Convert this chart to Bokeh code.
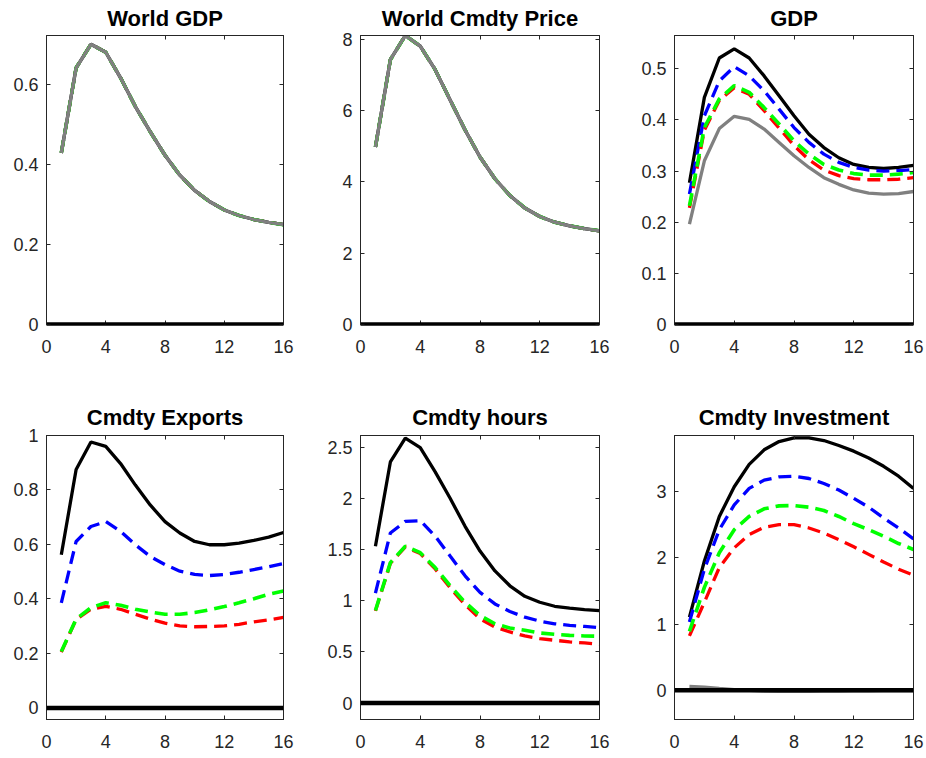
from bokeh.plotting import figure
from bokeh.models import Range1d, LinearAxis, FixedTicker, Span, CustomLabelingPolicy
from bokeh.layouts import column, row
from bokeh.embed import file_html
from bokeh.resources import INLINE

# ---------------- data ----------------
horizon = list(range(1, 17))
x_ticks = [0, 4, 8, 12, 16]

titles = ["World GDP", "World Cmdty Price", "GDP",
          "Cmdty Exports", "Cmdty hours", "Cmdty Investment"]

# World GDP (all scenarios coincide)
world_gdp = [0.430, 0.643, 0.702, 0.682, 0.618, 0.546, 0.483, 0.424,
             0.374, 0.336, 0.308, 0.287, 0.273, 0.263, 0.256, 0.250]
# World commodity price (all scenarios coincide)
world_price = [4.98, 7.43, 8.11, 7.81, 7.15, 6.30, 5.46, 4.70,
               4.09, 3.62, 3.27, 3.03, 2.87, 2.77, 2.69, 2.63]

# GDP
gdp_black = [0.277, 0.444, 0.521, 0.539, 0.521, 0.486, 0.447, 0.408,
             0.372, 0.346, 0.326, 0.313, 0.307, 0.305, 0.307, 0.311]
gdp_blue = [0.255, 0.408, 0.476, 0.504, 0.486, 0.457, 0.421, 0.385,
            0.356, 0.333, 0.317, 0.307, 0.302, 0.300, 0.301, 0.303]
gdp_green = [0.232, 0.385, 0.441, 0.467, 0.454, 0.424, 0.392, 0.359,
             0.333, 0.313, 0.302, 0.295, 0.292, 0.292, 0.294, 0.297]
gdp_red = [0.228, 0.380, 0.438, 0.463, 0.450, 0.418, 0.384, 0.350,
           0.322, 0.302, 0.291, 0.285, 0.283, 0.283, 0.284, 0.287]
gdp_gray = [0.196, 0.320, 0.383, 0.407, 0.401, 0.382, 0.356, 0.330,
            0.307, 0.287, 0.274, 0.263, 0.257, 0.255, 0.256, 0.260]

# Commodity exports
exp_black = [0.562, 0.875, 0.976, 0.960, 0.897, 0.818, 0.745, 0.684,
             0.642, 0.611, 0.599, 0.599, 0.605, 0.615, 0.627, 0.644]
exp_blue = [0.386, 0.611, 0.666, 0.684, 0.648, 0.599, 0.556, 0.526,
            0.502, 0.490, 0.486, 0.490, 0.498, 0.508, 0.518, 0.530]
exp_green = [0.207, 0.326, 0.368, 0.386, 0.377, 0.362, 0.352, 0.344,
             0.344, 0.350, 0.360, 0.372, 0.386, 0.401, 0.417, 0.429]
exp_red = [0.205, 0.325, 0.362, 0.373, 0.362, 0.344, 0.326, 0.311,
           0.301, 0.298, 0.299, 0.301, 0.307, 0.316, 0.323, 0.332]
exp_gray = [0.0, 0.0, 0.0, 0.0, 0.0, 0.0, 0.0, 0.0,
            0.0, 0.0, 0.0, 0.0, 0.0, 0.0, 0.0, 0.0]

# Commodity hours
hrs_black = [1.532, 2.355, 2.587, 2.494, 2.258, 2.000, 1.726, 1.484,
             1.290, 1.145, 1.042, 0.984, 0.945, 0.926, 0.913, 0.903]
hrs_blue = [1.074, 1.661, 1.774, 1.781, 1.629, 1.435, 1.242, 1.081,
            0.968, 0.894, 0.839, 0.800, 0.774, 0.758, 0.748, 0.735]
hrs_green = [0.903, 1.371, 1.532, 1.468, 1.323, 1.145, 0.984, 0.855,
             0.774, 0.732, 0.710, 0.684, 0.671, 0.661, 0.655, 0.652]
hrs_red = [0.900, 1.365, 1.525, 1.460, 1.310, 1.125, 0.960, 0.823,
           0.742, 0.694, 0.655, 0.629, 0.613, 0.597, 0.587, 0.574]
hrs_gray = [0.0, 0.0, 0.0, 0.0, 0.0, 0.0, 0.0, 0.0,
            0.0, 0.0, 0.0, 0.0, 0.0, 0.0, 0.0, 0.0]

# Commodity investment
inv_black = [1.106, 1.952, 2.624, 3.073, 3.411, 3.630, 3.755, 3.810,
             3.810, 3.770, 3.695, 3.610, 3.506, 3.381, 3.232, 3.048]
inv_blue = [1.031, 1.828, 2.425, 2.799, 3.048, 3.172, 3.222, 3.232,
            3.197, 3.122, 3.023, 2.898, 2.764, 2.600, 2.450, 2.286]
inv_green = [0.891, 1.554, 2.077, 2.425, 2.624, 2.739, 2.784, 2.789,
             2.764, 2.714, 2.624, 2.515, 2.425, 2.326, 2.216, 2.126]
inv_red = [0.822, 1.330, 1.853, 2.151, 2.351, 2.460, 2.500, 2.500,
           2.450, 2.375, 2.276, 2.166, 2.052, 1.937, 1.828, 1.738]
inv_gray = [0.060, 0.050, 0.030, 0.012, 0.000, -0.010, -0.015, -0.015,
            -0.015, -0.012, -0.010, -0.008, -0.006, -0.004, -0.003, -0.002]

y_limits = [(0, 0.724), (0, 8.11), (0, 0.565),
            (-0.0425, 1.0), (-0.161, 2.613), (-0.44, 3.846)]
y_ticks = [[0, 0.2, 0.4, 0.6], [0, 2, 4, 6, 8], [0, 0.1, 0.2, 0.3, 0.4, 0.5],
           [0, 0.2, 0.4, 0.6, 0.8, 1], [0, 0.5, 1, 1.5, 2, 2.5], [0, 1, 2, 3]]

series = [
    (world_gdp, world_gdp, world_gdp, world_gdp, world_gdp),
    (world_price, world_price, world_price, world_price, world_price),
    (gdp_black, gdp_blue, gdp_red, gdp_green, gdp_gray),
    (exp_black, exp_blue, exp_red, exp_green, exp_gray),
    (hrs_black, hrs_blue, hrs_red, hrs_green, hrs_gray),
    (inv_black, inv_blue, inv_red, inv_green, inv_gray),
]

# ---------------- layout / style ----------------
AX = "#262626"
FONT = "Liberation Sans"
TICK_FS = "18px"
DASH = "13 7"

# (width, height, left, right, top, bottom, title standoff)
geom = [
    (321, 392, 46, 38, 35, 68, 1),
    (315, 392, 39, 37, 35, 68, 1),
    (288, 392, 38, 11, 35, 68, 1),
    (321, 358, 46, 38, 43, 28, 3),
    (315, 358, 39, 37, 43, 28, 3),
    (288, 358, 38, 11, 43, 28, 3),
]

no_labels = CustomLabelingPolicy(code="""
    for (const i of indices)
        indices.unset(i)
    return indices
""")


def style_axis(ax, ticks, show_labels, standoff):
    ax.ticker = FixedTicker(ticks=ticks)
    ax.axis_line_color = AX
    ax.axis_line_width = 1
    ax.major_tick_line_color = AX
    ax.major_tick_in = 4
    ax.major_tick_out = 0
    ax.minor_tick_line_color = None
    ax.major_label_text_font = FONT
    ax.major_label_text_color = AX
    if show_labels:
        ax.major_label_text_font_size = TICK_FS
        ax.major_label_standoff = standoff
    else:
        ax.major_label_text_font_size = "1px"
        ax.major_label_policy = no_labels
        ax.major_label_standoff = 0


figs = []
for i in range(6):
    w, h, bl, br, bt, bb, ts = geom[i]
    p = figure(width=w, height=h, output_backend="svg", toolbar_location=None,
               x_range=Range1d(0, 16), y_range=Range1d(*y_limits[i]),
               min_border_left=bl, min_border_right=br,
               min_border_top=bt, min_border_bottom=bb,
               background_fill_color="white", border_fill_color="white")
    p.outline_line_color = AX
    p.xgrid.visible = False
    p.ygrid.visible = False
    p.title.text = titles[i]
    p.title.text_font = FONT
    p.title.text_font_size = "22px"
    p.title.text_font_style = "bold"
    p.title.text_color = "black"
    p.title.align = "center"
    p.title.standoff = ts

    style_axis(p.xaxis[0], x_ticks, True, 15)
    style_axis(p.yaxis[0], y_ticks[i], True, 8)
    if y_limits[i][0] == 0:
        # zero line lies on the bottom edge: show its full thickness
        p.xaxis[0].axis_line_color = "black"
        p.xaxis[0].axis_line_width = 2.5
    ra = LinearAxis()
    style_axis(ra, y_ticks[i], False, 0)
    p.add_layout(ra, "right")
    ta = LinearAxis()
    style_axis(ta, x_ticks, False, 0)
    p.add_layout(ta, "above")

    blk, blu, red, grn, gry = series[i]
    p.line(horizon, blk, line_color="black", line_width=3.3)
    p.line(horizon, blu, line_color="#0000FF", line_width=3.3, line_dash=DASH)
    p.line(horizon, red, line_color="#FF0000", line_width=3.3, line_dash=DASH)
    p.line(horizon, grn, line_color="#00FF00", line_width=3.6, line_dash=DASH)
    p.line(horizon, gry, line_color="#808080", line_width=3.3)
    p.add_layout(Span(location=0, dimension="width", line_color="black",
                      line_width=4.5))
    figs.append(p)

layout = column(row(figs[0], figs[1], figs[2]), row(figs[3], figs[4], figs[5]))
open("out.html", "w").write(file_html(layout, INLINE))
